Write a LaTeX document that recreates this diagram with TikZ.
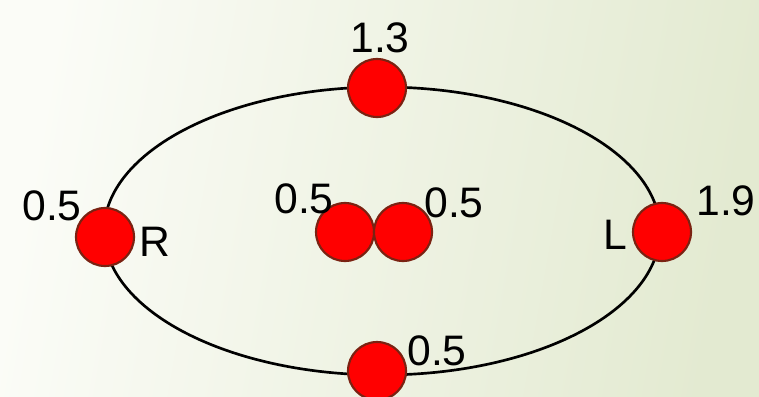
\documentclass[tikz,border=0pt]{standalone}
\usepackage{fontspec}
\setmainfont{Liberation Sans}
\definecolor{bgL}{HTML}{FBFCF7}
\definecolor{bgR}{HTML}{E3EAD1}
\definecolor{ballfill}{HTML}{FF0000}
\definecolor{balledge}{HTML}{7A2212}
\begin{document}
\begin{tikzpicture}[x=0.75pt,y=-0.75pt,
  ball/.style={circle,fill=ballfill,draw=balledge,line width=1.6pt,minimum size=43.5pt,inner sep=0pt},
  lbl/.style={font=\fontsize{32}{32}\selectfont,inner sep=0pt,anchor=base}]
\shade[left color=bgL,right color=bgR,shading angle=80] (0,0) rectangle (759,396);
\useasboundingbox (0,0) rectangle (759,396);
\draw[line width=2pt] (382,231) ellipse [x radius=278, y radius=144];
\node[ball] (top) at (377,88) {};
\node[ball] (left) at (105,237) {};
\node[ball] (right) at (662,232) {};
\node[ball] (bot) at (377,371) {};
\node[ball] (c1) at (345,232) {};
\node[ball] (c2) at (403,232) {};
\node[lbl] (t13) at (380,52) {1.3};
\node[lbl] (t05a) at (52,220) {0.5};
\node[lbl] (tR) at (155,256) {R};
\node[lbl] (t05b) at (304,213) {0.5};
\node[lbl] (t05c) at (454,217) {0.5};
\node[lbl] (tL) at (615,249) {L};
\node[lbl] (t19) at (726,215) {1.9};
\node[lbl] (t05d) at (437,365) {0.5};
\end{tikzpicture}
\end{document}
